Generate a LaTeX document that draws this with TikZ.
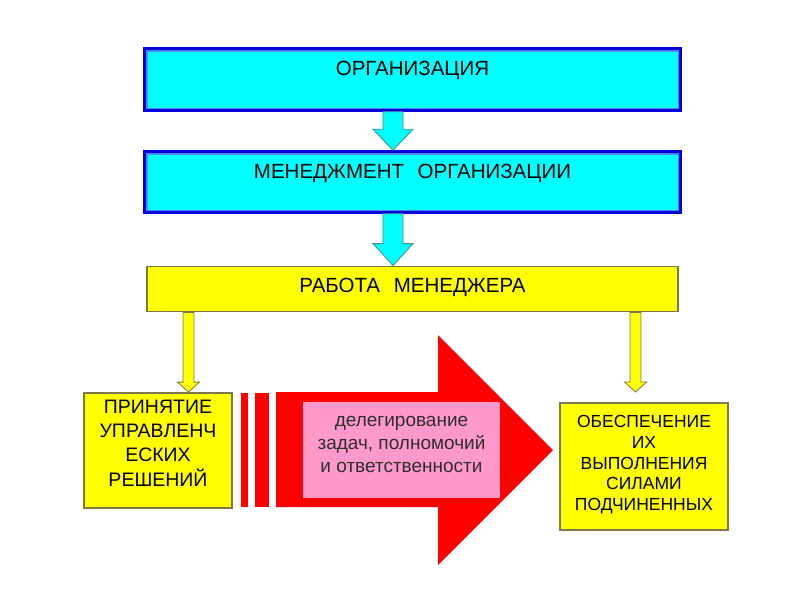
\documentclass[tikz,border=0pt]{standalone}
\usepackage{fontspec}
\setmainfont{Liberation Sans}
\usetikzlibrary{calc}
\definecolor{cy}{HTML}{00FFFF}
\definecolor{dblue}{HTML}{0000DD}
\definecolor{lblue}{HTML}{4A86FF}
\definecolor{yel}{HTML}{FFFF00}
\definecolor{olive}{HTML}{7A7A48}
\definecolor{teal2}{HTML}{3F8F8F}
\definecolor{pinkf}{HTML}{FF99CC}
\definecolor{redf}{HTML}{FF0000}
\tikzset{
  bluebox/.style={rectangle, fill=cy, draw=dblue, line width=3.4pt, inner xsep=0pt, inner ysep=0pt,
    font=\fontsize{20.5}{24}\selectfont, text width=#1, align=center},
  yelbar/.style={rectangle, fill=yel, draw=olive, line width=1.8pt, inner xsep=0pt, inner ysep=0pt,
    font=\fontsize{20.5}{24}\selectfont, text width=#1, align=center},
  yelbox/.style={rectangle, fill=yel, draw=olive, line width=1.8pt, inner sep=0pt},
  cyarrow/.style={fill=cy, draw=teal2, line width=0.8pt, line join=miter},
  yelarrow/.style={fill=yel, draw=olive, line width=0.8pt, line join=miter},
  pinkbox/.style={rectangle, fill=pinkf, draw=none, inner sep=0pt,
    text=black!82, font=\fontsize{19}{23.3}\selectfont}
}
% lifted centred lines of text
\newcommand{\liftlines}[2]{\raisebox{#1}[\height][\depth]{\begin{tabular}{@{}c@{}}#2\end{tabular}}}
% #1 style, #2 start (shaft x taken from tip), #3 tip, #4 shaft half width, #5 head half width, #6 head length
\newcommand{\blockarrowdown}[6]{%
  \draw[#1] let \p1=#2, \p2=#3 in
   (\x2-#4pt,\y1) -- (\x2-#4pt,\y2+#6pt) -- (\x2-#5pt,\y2+#6pt) -- (\x2,\y2)
   -- (\x2+#5pt,\y2+#6pt) -- (\x2+#4pt,\y2+#6pt) -- (\x2+#4pt,\y1) -- cycle;}
\begin{document}
\begin{tikzpicture}[x=1pt,y=-1pt]
\useasboundingbox[fill=white] (0,0) rectangle (800,600);

% top boxes
\node[bluebox=535pt, text height=26pt, text depth=35pt] (org) at (412.5,79.5) {ОРГАНИЗАЦИЯ};
\draw[lblue, line width=1.2pt] ($(org.south west)+(3.6,-3.6)$) rectangle ($(org.north east)+(-3.6,3.6)$);
\node[bluebox=535pt, text height=26pt, text depth=34pt] (men) at (412.5,182) {МЕНЕДЖМЕНТ\ \ ОРГАНИЗАЦИИ};
\draw[lblue, line width=1.2pt] ($(men.south west)+(3.6,-3.6)$) rectangle ($(men.north east)+(-3.6,3.6)$);
\node[yelbar=531pt, text height=26pt, text depth=19pt] (rab) at (412.5,289) {РАБОТА\ \ МЕНЕДЖЕРА};

% lower boxes
\node[yelbox, minimum width=148pt, minimum height=115pt, font=\fontsize{19.5}{24}\selectfont] (left) at (158,450.5)
  {\liftlines{5pt}{ПРИНЯТИЕ\\УПРАВЛЕНЧ\\ЕСКИХ\\РЕШЕНИЙ}};
\node[yelbox, minimum width=168pt, minimum height=127pt, font=\fontsize{17.5}{20.8}\selectfont] (right) at (644,466.5)
  {\liftlines{1.5pt}{ОБЕСПЕЧЕНИЕ\\ИХ\\ВЫПОЛНЕНИЯ\\СИЛАМИ\\ПОДЧИНЕННЫХ}};

% red arrow
\fill[redf] (241,393) rectangle (248,507);
\fill[redf] (255,393) rectangle (269,507);
\fill[redf] (276,392) -- (438,392) -- (438,335) -- (553,450) -- (438,565) -- (438,507) -- (276,507) -- cycle;
\node[pinkbox, minimum width=197pt, minimum height=96pt] (deleg) at (401.5,450)
  {\liftlines{5pt}{делегирование\\задач, полномочий\\и ответственности}};

% connectors
\coordinate (ax) at (393,0);
\coordinate (lx) at (188.5,0);
\coordinate (rtip) at (635.5,392);
\blockarrowdown{cyarrow}{(org.south)}{(men.north -| ax)}{10}{20}{21}
\blockarrowdown{cyarrow}{(men.south)}{(rab.north -| ax)}{10}{20}{22}
\blockarrowdown{yelarrow}{(rab.south)}{(left.north -| lx)}{5.5}{11}{10}
\blockarrowdown{yelarrow}{(rab.south)}{(rtip)}{5.5}{11}{10}
\end{tikzpicture}
\end{document}
